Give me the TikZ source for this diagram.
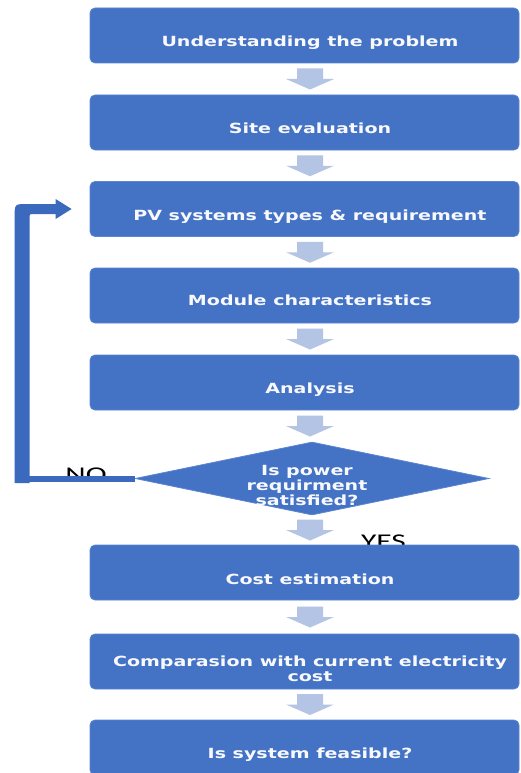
\documentclass[tikz,border=0pt]{standalone}
\usepackage{fontspec}
\usetikzlibrary{shapes.geometric,calc}
\newfontfamily\boxfont[FakeStretch=1.36]{DejaVu Sans Bold}
\newfontfamily\ynfont[FakeStretch=1.5]{Carlito}
\definecolor{boxblue}{HTML}{4472C4}
\definecolor{boxedge}{HTML}{5A85D0}
\definecolor{arrowfill}{HTML}{B4C4E4}
\definecolor{loopblue}{HTML}{3B69BE}
\begin{document}
\begin{tikzpicture}[x=1pt,y=-1pt,
  stepbox/.style={rectangle, rounded corners=5pt, fill=boxblue, draw=boxedge, line width=0.8pt,
    minimum width=429pt, minimum height=55pt, inner sep=0pt},
  decbox/.style={diamond, fill=boxblue, draw=boxedge, line width=0.8pt,
    minimum width=354pt, minimum height=73pt, inner sep=0pt},
  steptext/.style={text=white!96!boxblue, font=\boxfont\fontsize{14}{15}\selectfont, inner sep=0pt, align=center, anchor=base},
  yntext/.style={text=black, font=\ynfont\fontsize{21}{24}\selectfont, inner sep=0pt, anchor=base},
  dnarrow/.pic={\fill[arrowfill] (-13,-10.5) -- (13,-10.5) -- (13,0) -- (24,0) -- (0,10.5) -- (-24,0) -- (-13,0) -- cycle;}
]
\clip (0,0) rectangle (521,773);
\fill[white] (0,0) rectangle (521,773);

% labels partly hidden by shapes drawn later
\node[yntext] (yes) at (383.5,548.5) {YES};
\node[yntext] (no) at (86,481.5) {NO};

% process boxes
\node[stepbox] (b1) at (304.5,35.5) {};
\node[stepbox] (b2) at (304.5,122.5) {};
\node[stepbox] (b3) at (304.5,209) {};
\node[stepbox] (b4) at (304.5,295.5) {};
\node[stepbox] (b5) at (304.5,382.5) {};
\node[decbox] (dec) at (312,478.5) {};
\node[stepbox] (b6) at (304.5,572.5) {};
\node[stepbox] (b7) at (304.5,661.5) {};
\node[stepbox] (b8) at (304.5,747.5) {};

% texts (base anchor = baseline of the last line)
\node[steptext] (t1) at ($(b1.center)+(5.5,11)$) {Understanding the problem};
\node[steptext] (t2) at ($(b2.center)+(5.5,11)$) {Site evaluation};
\node[steptext] (t3) at ($(b3.center)+(5.5,11)$) {PV systems types \& requirement};
\node[steptext] (t4) at ($(b4.center)+(5.5,10)$) {Module characteristics};
\node[steptext] (t5) at ($(b5.center)+(5.5,11)$) {Analysis};
\node[steptext] (td) at ($(dec.center)+(-5,26.5)$) {Is power\\requirment\\satisfied?};
\node[steptext] (t6) at ($(b6.center)+(5.5,12)$) {Cost estimation};
\node[steptext] (t7) at ($(b7.center)+(5.5,19.5)$) {Comparasion with current electricity\\cost};
\node[steptext] (t8) at ($(b8.center)+(5.5,11)$) {Is system feasible?};

% block arrows between steps
\coordinate (ax) at (310,0);
\foreach \a/\b in {b1/b2,b2/b3,b3/b4,b4/b5,b5/dec,dec/b6,b6/b7,b7/b8}{
  \coordinate (m) at ($(\a.south)!.5!(\b.north)$);
  \pic at (m -| ax) {dnarrow};
}

% NO feedback loop
\coordinate (tip) at ($(b3.west)+(-18,0)$);
\coordinate (fbc) at (dec.west -| 22,0);
\draw[loopblue, line width=6pt] (dec.west) -- ([xshift=-7pt]fbc);
\begin{scope}[shift={(tip)}]
\fill[loopblue] (-57,274) -- (-57,8) .. controls (-57,-5) .. (-44,-5) -- (-16,-5) -- (-16,-10)
  -- (0,0) -- (-16,10) -- (-16,5) -- (-38,5) .. controls (-42,5) .. (-42,9) -- (-42,274) -- cycle;
\end{scope}
\end{tikzpicture}
\end{document}
